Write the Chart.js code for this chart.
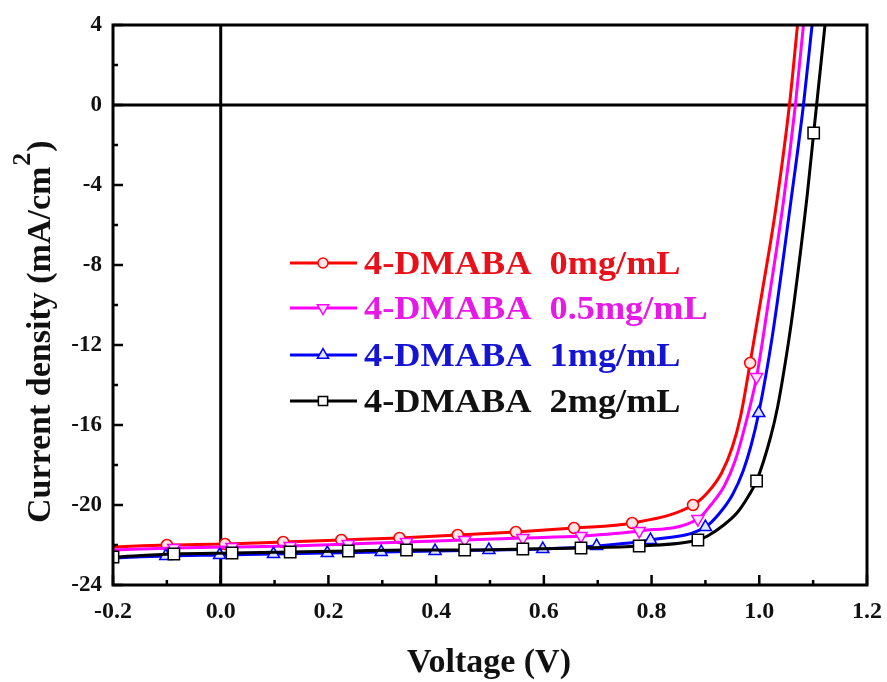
<!DOCTYPE html>
<html>
<head>
<meta charset="utf-8">
<script src="https://cdn.jsdelivr.net/npm/chart.js@4/dist/chart.umd.min.js"></script>
<style>
  body { margin: 0; background: #fff; }
</style>
</head>
<body>
<canvas id="jv-chart" width="887" height="682"></canvas>
<script>
"use strict";

// J-V curves: voltage (V), current density (mA/cm2)
// mark = 1 where the curve carries a symbol
const redV = [-0.2, -0.1, 0.008, 0.116, 0.224, 0.332, 0.44, 0.548, 0.656, 0.764, 0.877, 0.905, 0.93, 0.95, 0.965, 0.983, 1.005, 1.03, 1.056, 1.071];
const redJ = [-22.1, -22.0, -21.95, -21.85, -21.75, -21.65, -21.5, -21.35, -21.15, -20.9, -20.0, -19.35, -18.4, -17.1, -15.6, -12.9, -9.4, -5.3, 0, 4];
const redMark = [0, 1, 1, 1, 1, 1, 1, 1, 1, 1, 1, 0, 0, 0, 0, 1, 0, 0, 0, 0];

const magV = [-0.2, -0.087, 0.021, 0.129, 0.237, 0.345, 0.453, 0.561, 0.669, 0.777, 0.886, 0.91, 0.935, 0.955, 0.975, 0.995, 1.015, 1.045, 1.067, 1.082];
const magJ = [-22.25, -22.15, -22.1, -22.05, -21.95, -21.85, -21.75, -21.65, -21.55, -21.3, -20.7, -20.0, -19.05, -17.8, -15.9, -13.6, -10.2, -4.8, 0, 4];
const magMark = [0, 1, 1, 1, 1, 1, 1, 1, 1, 1, 1, 0, 0, 0, 0, 1, 0, 0, 0, 0];

const bluV = [-0.2, -0.102, -0.002, 0.098, 0.198, 0.298, 0.398, 0.498, 0.598, 0.698, 0.798, 0.9, 0.925, 0.95, 0.97, 0.985, 0.999, 1.024, 1.059, 1.082, 1.098];
const bluJ = [-22.65, -22.55, -22.5, -22.45, -22.4, -22.35, -22.3, -22.25, -22.2, -22.05, -21.75, -21.1, -20.45, -19.5, -18.3, -17.0, -15.4, -11.6, -4.75, 0, 4];
const bluMark = [0, 1, 1, 1, 1, 1, 1, 1, 1, 1, 1, 1, 0, 0, 0, 0, 1, 0, 0, 0, 0];

const blkV = [-0.2, -0.087, 0.021, 0.129, 0.237, 0.345, 0.453, 0.561, 0.669, 0.777, 0.886, 0.904, 0.934, 0.96, 0.98, 0.995, 1.021, 1.034, 1.054, 1.064, 1.089, 1.101, 1.122];
const blkJ = [-22.6, -22.45, -22.4, -22.35, -22.3, -22.25, -22.25, -22.2, -22.15, -22.05, -21.75, -21.55, -21.0, -20.35, -19.55, -18.8, -16.6, -15.1, -11.9, -10.0, -4.5, -1.4, 4];
const blkMark = [1, 1, 1, 1, 1, 1, 1, 1, 1, 1, 1, 0, 0, 0, 0, 1, 0, 0, 0, 0, 0, 1, 0];

const seriesNames = ["4-DMABA  0mg/mL", "4-DMABA  0.5mg/mL", "4-DMABA  1mg/mL", "4-DMABA  2mg/mL"];

// axis ranges / tick steps
const xRange = [-0.2, 1.2];
const xStep = 0.2;
const yRange = [-24, 4];
const yStep = 4;

const xTitle = "Voltage (V)";
const yTitle = "Current density (mA/cm";

const serif = "'Liberation Serif', 'Times New Roman', serif";

function toPoints(vs, js) {
  return vs.map((v, i) => ({ x: v, y: js[i] }));
}

function makeSeries(label, vs, js, marks, color, fill, style, rotation, radius, order) {
  return {
    label: label,
    data: toPoints(vs, js),
    borderColor: color,
    borderWidth: 3,
    backgroundColor: fill,
    pointStyle: style,
    pointRotation: rotation,
    pointBorderColor: color,
    pointBackgroundColor: fill,
    pointBorderWidth: 1.5,
    pointRadius: (ctx) => (marks[ctx.dataIndex] ? radius : 0),
    cubicInterpolationMode: "monotone",
    order: order,
  };
}

const datasets = [
  makeSeries(seriesNames[0], redV, redJ, redMark, "#ff0000", "#ffe6e6", "circle", 0, 5.5, 3),
  makeSeries(seriesNames[1], magV, magJ, magMark, "#ff00ff", "#ffe6ff", "triangle", 180, 7, 2),
  makeSeries(seriesNames[2], bluV, bluJ, bluMark, "#0000ff", "#e0e6ff", "triangle", 0, 7, 1),
  makeSeries(seriesNames[3], blkV, blkJ, blkMark, "#000000", "#ffffff", "rect", 0, 8, 0),
];

const legendText = ["#e8101a", "#e619e6", "#1414d2", "#111111"];

// zero lines, behind the curves
const zeroLines = {
  id: "zeroLines",
  beforeDatasetsDraw(chart) {
    const { ctx, chartArea, scales } = chart;
    const x0 = scales.x.getPixelForValue(0);
    const y0 = scales.y.getPixelForValue(0);
    ctx.save();
    ctx.strokeStyle = "#000";
    ctx.lineWidth = 3;
    ctx.beginPath();
    ctx.moveTo(x0, chartArea.top);
    ctx.lineTo(x0, chartArea.bottom);
    ctx.moveTo(chartArea.left, y0);
    ctx.lineTo(chartArea.right, y0);
    ctx.stroke();
    ctx.restore();
  },
};

// frame, inward ticks, axis titles and the legend
const decorations = {
  id: "decorations",
  afterDatasetsDraw(chart) {
    const { ctx, chartArea, scales } = chart;
    const { left, right, top, bottom } = chartArea;
    ctx.save();
    ctx.strokeStyle = "#000";
    ctx.lineWidth = 3;
    ctx.strokeRect(left, top, right - left, bottom - top);

    ctx.lineWidth = 2.5;
    ctx.beginPath();
    for (let k = 0; k <= (yRange[1] - yRange[0]) / (yStep / 2); k++) {
      const y = scales.y.getPixelForValue(yRange[0] + k * yStep / 2);
      const len = k % 2 === 0 ? 10 : 5;
      ctx.moveTo(left, y);
      ctx.lineTo(left + len, y);
    }
    for (let k = 0; k <= Math.round((xRange[1] - xRange[0]) / (xStep / 2)); k++) {
      const x = scales.x.getPixelForValue(xRange[0] + k * xStep / 2);
      const len = k % 2 === 0 ? 10 : 5;
      ctx.moveTo(x, bottom);
      ctx.lineTo(x, bottom - len);
    }
    ctx.stroke();

    // axis titles
    ctx.fillStyle = "#111";
    ctx.font = "bold 34px " + serif;
    ctx.textAlign = "center";
    ctx.textBaseline = "alphabetic";
    ctx.fillText(xTitle, 489, 672);

    ctx.save();
    ctx.translate(50, 523);
    ctx.rotate(-Math.PI / 2);
    ctx.textAlign = "left";
    ctx.font = "bold 34px " + serif;
    ctx.fillText(yTitle, 0, 0);
    let w = ctx.measureText(yTitle).width;
    ctx.font = "bold 26px " + serif;
    ctx.fillText("2", w + 1, -20);
    w += ctx.measureText("2").width + 2;
    ctx.font = "bold 34px " + serif;
    ctx.fillText(")", w, 0);
    ctx.restore();

    // legend: line, symbol, coloured label
    const rowY = [263, 308, 355, 401];
    chart.data.datasets.forEach((ds, i) => {
      const y = rowY[i];
      ctx.strokeStyle = ds.borderColor;
      ctx.lineWidth = 3;
      ctx.beginPath();
      ctx.moveTo(290, y);
      ctx.lineTo(357, y);
      ctx.stroke();
      ctx.fillStyle = ds.pointBackgroundColor;
      ctx.strokeStyle = ds.borderColor;
      ctx.lineWidth = 1.5;
      Chart.helpers.drawPoint(ctx, {
        pointStyle: ds.pointStyle,
        rotation: ds.pointRotation,
        radius: ds.pointStyle === "circle" ? 5 : 6.5,
        borderWidth: 1.5,
      }, 323, y);
      ctx.save();
      ctx.translate(364, y + 2);
      ctx.scale(1.1, 1);
      ctx.fillStyle = legendText[i];
      ctx.font = "bold 33px " + serif;
      ctx.textAlign = "left";
      ctx.textBaseline = "middle";
      ctx.fillText(ds.label, 0, 0);
      ctx.restore();
    });
    ctx.restore();
  },
};

const configuration = {
  type: "line",
  data: { datasets: datasets },
  options: {
    responsive: false,
    animation: false,
    events: [],
    layout: { padding: { top: 25, right: 20, left: 0, bottom: 0 } },
    plugins: {
      legend: { display: false },
      tooltip: { enabled: false },
    },
    scales: {
      x: {
        type: "linear",
        min: xRange[0],
        max: xRange[1],
        afterFit: (scale) => {
          scale.height = 97;
          scale.paddingLeft = 0;
          scale.paddingRight = 0;
        },
        grid: { display: false, drawTicks: false },
        border: { display: false },
        ticks: {
          stepSize: xStep,
          padding: 12,
          color: "#111",
          font: { family: serif, size: 24, weight: "bold" },
          callback: (v) => (Math.abs(v) < 1e-9 ? "0.0" : v.toFixed(1)),
        },
      },
      y: {
        min: yRange[0],
        max: yRange[1],
        afterFit: (scale) => {
          scale.width = 113;
          scale.paddingTop = 0;
          scale.paddingBottom = 0;
        },
        grid: { display: false, drawTicks: false },
        border: { display: false },
        ticks: {
          stepSize: yStep,
          padding: 11,
          color: "#111",
          font: { family: serif, size: 23, weight: "bold" },
          callback: (v) => String(v),
        },
      },
    },
  },
  plugins: [zeroLines, decorations],
};

new Chart(document.querySelector("#jv-chart").getContext("2d"), configuration);
</script>
</body>
</html>
